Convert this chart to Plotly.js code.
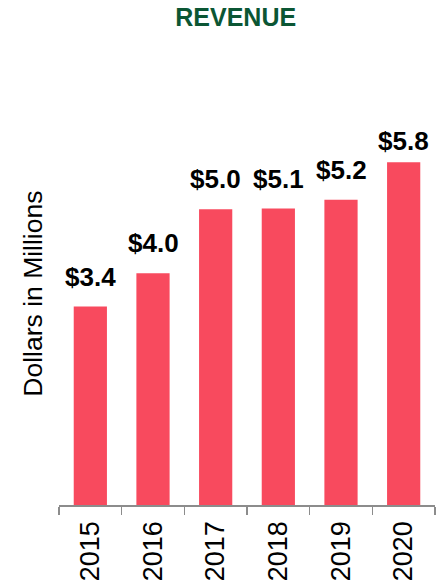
<!DOCTYPE html>
<html>
<head>
<meta charset="utf-8">
<script src="https://cdn.plot.ly/plotly-3.0.1.min.js"></script>
<style>html,body{margin:0;padding:0;background:#fff;}#chart{width:445px;height:584px;}</style>
</head>
<body>
<div id="chart"></div>
<script>
var years = ['2015', '2016', '2017', '2018', '2019', '2020'];
var revenue = [3.38, 3.95, 5.04, 5.05, 5.20, 5.84];
var labels = ['$3.4', '$4.0', '$5.0', '$5.1', '$5.2', '$5.8'];
var labelShift = [13, 13, 13, 13, 13, 4];

var FONT = 'Liberation Sans, Arial, sans-serif';

var annotations = years.map(function (y, i) {
  return {
    x: i, y: revenue[i], xref: 'x', yref: 'y',
    text: '<b>' + labels[i] + '</b>',
    showarrow: false, yanchor: 'bottom', yshift: labelShift[i],
    font: {family: FONT, size: 26, color: '#000'}
  };
});
annotations.push({
  xref: 'paper', yref: 'paper', x: -0.07, y: 0.5, xanchor: 'center', yanchor: 'middle',
  text: 'Dollars in Millions', textangle: -90, showarrow: false,
  font: {family: FONT, size: 26.5, color: '#000'}
});

var trace = {
  type: 'bar', x: years, y: revenue,
  marker: {color: '#F84A5E'},
  hoverinfo: 'none'
};

var layout = {
  width: 445, height: 584,
  margin: {l: 59, r: 10, t: 83, b: 79, pad: 0},
  paper_bgcolor: '#fff', plot_bgcolor: '#fff',
  showlegend: false,
  bargap: 0.47,
  title: {
    text: '<b>REVENUE</b>', font: {family: FONT, size: 25, color: '#0B5634'},
    xref: 'paper', x: 0.47, xanchor: 'center', yref: 'container', y: 0.97, yanchor: 'middle'
  },
  xaxis: {
    type: 'category', tickangle: -90, tickson: 'boundaries',
    ticks: 'outside', ticklen: 8, tickwidth: 1.5, tickcolor: '#8c8c8c',
    ticklabelstandoff: 4,
    showline: true, linecolor: '#8c8c8c', linewidth: 1.5,
    showgrid: false, zeroline: false,
    tickfont: {family: FONT, size: 27, color: '#000'}
  },
  yaxis: {
    range: [0, 7.19], showline: false, showgrid: false, zeroline: false,
    showticklabels: false, ticks: ''
  },
  annotations: annotations
};

Plotly.newPlot('chart', [trace], layout, {displayModeBar: false, staticPlot: true});
</script>
</body>
</html>
